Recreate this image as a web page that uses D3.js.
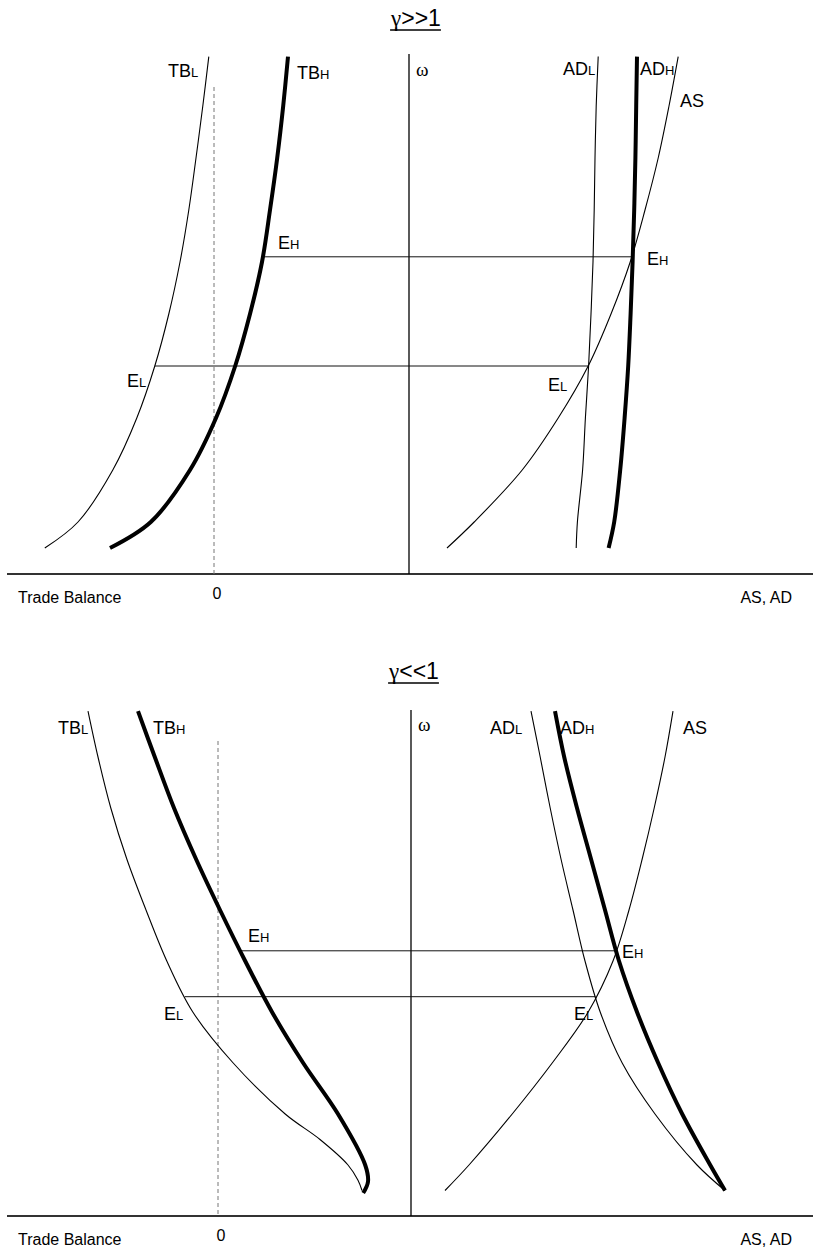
<!DOCTYPE html>
<html>
<head>
<meta charset="utf-8">
<script src="https://cdn.jsdelivr.net/npm/d3@7"></script>
<style>
body { margin: 0; background: #fff; }
svg text { font-family: "Liberation Sans", Arial, sans-serif; fill: #000; }
</style>
</head>
<body>
<svg id="chart" width="813" height="1251"></svg>
<script>
// ---- data (omega on the vertical axis) ----
// upper panel, gamma >> 1
var omegaTop = [0.5, 1, 2, 3, 4, 5, 6, 7, 8, 9, 9.95];
var tbLowTop = [-4.23, -3.4, -2.53, -1.93, -1.48, -1.13, -0.85, -0.63, -0.45, -0.28, -0.13];
var tbHighTop = [-2.6, -1.58, -0.6, 0.05, 0.53, 0.9, 1.2, 1.4, 1.58, 1.73, 1.85];
var asTop = [0.95, 1.63, 2.83, 3.73, 4.48, 5.05, 5.53, 5.9, 6.23, 6.5, 6.73];
var adLowTop = [4.18, 4.21, 4.34, 4.41, 4.49, 4.55, 4.6, 4.63, 4.65, 4.68, 4.73];
var adHighTop = [4.99, 5.13, 5.28, 5.39, 5.48, 5.54, 5.59, 5.63, 5.66, 5.68, 5.7];
var eqOmegaTop = [6.1, 4.0];     // E_H, E_L
var eqTbTop = [1.22, -1.48];
var eqAdTop = [5.59, 4.48];

// lower panel, gamma << 1
var omegaBot = [0.5, 1, 2, 3, 4, 5, 6, 7, 8, 9, 9.9];
var omegaTbHighBot = [0.45, 0.67, 1, 2, 3, 4, 5, 6, 7, 8, 9, 9.9];
var tbHighBot = [3.63, 3.75, 3.68, 3.0, 2.13, 1.35, 0.68, 0.05, -0.55, -1.1, -1.58, -2.0];
var omegaTbLowBot = [0.5, 0.7, 1, 1.5, 2, 3, 4, 5, 6, 7, 8, 9, 9.9];
var tbLowBot = [3.6, 3.5, 3.25, 2.55, 1.68, 0.38, -0.63, -1.28, -1.8, -2.28, -2.68, -3.0, -3.25];
var asBot = [0.85, 1.45, 2.53, 3.53, 4.43, 5.05, 5.45, 5.78, 6.08, 6.35, 6.55];
var adLowBot = [7.85, 7.15, 6.1, 5.28, 4.73, 4.35, 4.05, 3.75, 3.48, 3.23, 3.0];
var adHighBot = [7.85, 7.48, 6.78, 6.18, 5.65, 5.2, 4.85, 4.5, 4.15, 3.83, 3.6];
var eqOmegaBot = [5.2, 4.3];
var eqTbBot = [0.55, -0.83];
var eqAdBot = [5.13, 4.61];

var eqNames = ["H", "L"];

var svg = d3.select("#chart");
svg.append("rect").attr("width", 813).attr("height", 1251).attr("fill", "#fff");

function zip(xs, ys) {
    return xs.map(function(x, i) { return [x, ys[i]]; });
}

// label with small-cap subscript, e.g. TB + L
function label(g, x, y, main, sub, size) {
    var t = g.append("text").attr("x", x).attr("y", y).style("font-size", size + "px");
    t.append("tspan").text(main);
    if (sub) t.append("tspan").style("font-size", Math.round(size * 0.72) + "px").text(sub);
    return t;
}

function drawPanel(p) {
    var g = svg.append("g");
    var y = d3.scaleLinear().domain([0, 10]).range([p.axisY, p.axisY - 10 * p.unitY]);
    var xTb = d3.scaleLinear().domain([0, 1]).range([p.zeroX, p.zeroX + 40]);
    var xAd = d3.scaleLinear().domain([0, 1]).range([p.omegaX, p.omegaX + 40]);

    // title, underlined
    var title = g.append("text").attr("x", p.titleX).attr("y", p.titleY)
        .attr("text-anchor", "middle").style("font-size", "23px");
    title.append("tspan").style("font-family", "'Liberation Serif', serif").text("\u03b3");
    title.append("tspan").text(p.titleRest);
    var bb = title.node().getBBox();
    g.append("line").attr("x1", bb.x).attr("x2", bb.x + bb.width)
        .attr("y1", p.titleY + 4).attr("y2", p.titleY + 4)
        .attr("stroke", "#000").attr("stroke-width", 1.3);

    // axes
    g.append("line").attr("x1", 7).attr("x2", 813).attr("y1", p.axisY).attr("y2", p.axisY)
        .attr("stroke", "#333").attr("stroke-width", 1.8);
    g.append("line").attr("x1", p.omegaX).attr("x2", p.omegaX)
        .attr("y1", p.omegaTop).attr("y2", p.axisY)
        .attr("stroke", "#000").attr("stroke-width", 1.3);
    g.append("line").attr("x1", xTb(0)).attr("x2", xTb(0))
        .attr("y1", p.dashTop).attr("y2", p.axisY)
        .attr("stroke", "#777").attr("stroke-width", 1).attr("stroke-dasharray", "4,3");

    // equilibrium lines
    eqNames.forEach(function(n, i) {
        g.append("line")
            .attr("x1", xTb(p.eqTb[i])).attr("x2", xAd(p.eqAd[i]))
            .attr("y1", y(p.eqOmega[i])).attr("y2", y(p.eqOmega[i]))
            .attr("stroke", "#111").attr("stroke-width", 1);
    });

    // curves
    var line = d3.line().x(function(d) { return d[2](d[0]); }).y(function(d) { return y(d[1]); })
        .curve(d3.curveCatmullRom.alpha(0.5));
    p.curves.forEach(function(c) {
        var pts = zip(c.x, c.omega).map(function(d) { return [d[0], d[1], c.scale == "tb" ? xTb : xAd]; });
        g.append("path").attr("d", line(pts)).attr("fill", "none")
            .attr("stroke", "#000").attr("stroke-width", c.thick ? 4 : 1.1)
            .attr("stroke-linecap", "butt");
    });

    // curve labels
    p.labels.forEach(function(l) { label(g, l[0], l[1], l[2], l[3], 18); });
    g.append("text").attr("x", p.omegaX + 7).attr("y", p.omegaLabelY)
        .style("font-family", "'Liberation Serif', serif").style("font-size", "19px").text("\u03c9");

    // axis text
    g.append("text").attr("x", 18).attr("y", p.axisY + 29).style("font-size", "16px").text("Trade Balance");
    g.append("text").attr("x", xTb(0) + 3).attr("y", p.axisY + 25).attr("text-anchor", "middle")
        .style("font-size", "16px").text("0");
    g.append("text").attr("x", 792).attr("y", p.axisY + 29).attr("text-anchor", "end")
        .style("font-size", "16px").text("AS, AD");
}

drawPanel({
    titleX: 416, titleY: 26, titleRest: ">>1",
    axisY: 574, unitY: 52, zeroX: 214, omegaX: 409, omegaTop: 54, dashTop: 87, omegaLabelY: 76,
    eqOmega: eqOmegaTop, eqTb: eqTbTop, eqAd: eqAdTop,
    curves: [
        { x: tbLowTop, omega: omegaTop, scale: "tb", thick: false },
        { x: tbHighTop, omega: omegaTop, scale: "tb", thick: true },
        { x: asTop, omega: omegaTop, scale: "ad", thick: false },
        { x: adLowTop, omega: omegaTop, scale: "ad", thick: false },
        { x: adHighTop, omega: omegaTop, scale: "ad", thick: true }
    ],
    labels: [
        [168, 77, "TB", "L"], [297, 79, "TB", "H"], [563, 75, "AD", "L"], [640, 75, "AD", "H"],
        [680, 107, "AS", ""], [278, 249, "E", "H"], [647, 265, "E", "H"],
        [127, 387, "E", "L"], [548, 391, "E", "L"]
    ]
});

drawPanel({
    titleX: 414, titleY: 679, titleRest: "<<1",
    axisY: 1216, unitY: 51, zeroX: 218, omegaX: 411, omegaTop: 710, dashTop: 741, omegaLabelY: 731,
    eqOmega: eqOmegaBot, eqTb: eqTbBot, eqAd: eqAdBot,
    curves: [
        { x: tbLowBot, omega: omegaTbLowBot, scale: "tb", thick: false },
        { x: tbHighBot, omega: omegaTbHighBot, scale: "tb", thick: true },
        { x: asBot, omega: omegaBot, scale: "ad", thick: false },
        { x: adLowBot, omega: omegaBot, scale: "ad", thick: false },
        { x: adHighBot, omega: omegaBot, scale: "ad", thick: true }
    ],
    labels: [
        [58, 734, "TB", "L"], [153, 734, "TB", "H"], [490, 734, "AD", "L"], [560, 734, "AD", "H"],
        [683, 734, "AS", ""], [248, 942, "E", "H"], [622, 958, "E", "H"],
        [164, 1020, "E", "L"], [574, 1020, "E", "L"]
    ]
});
</script>
</body>
</html>
